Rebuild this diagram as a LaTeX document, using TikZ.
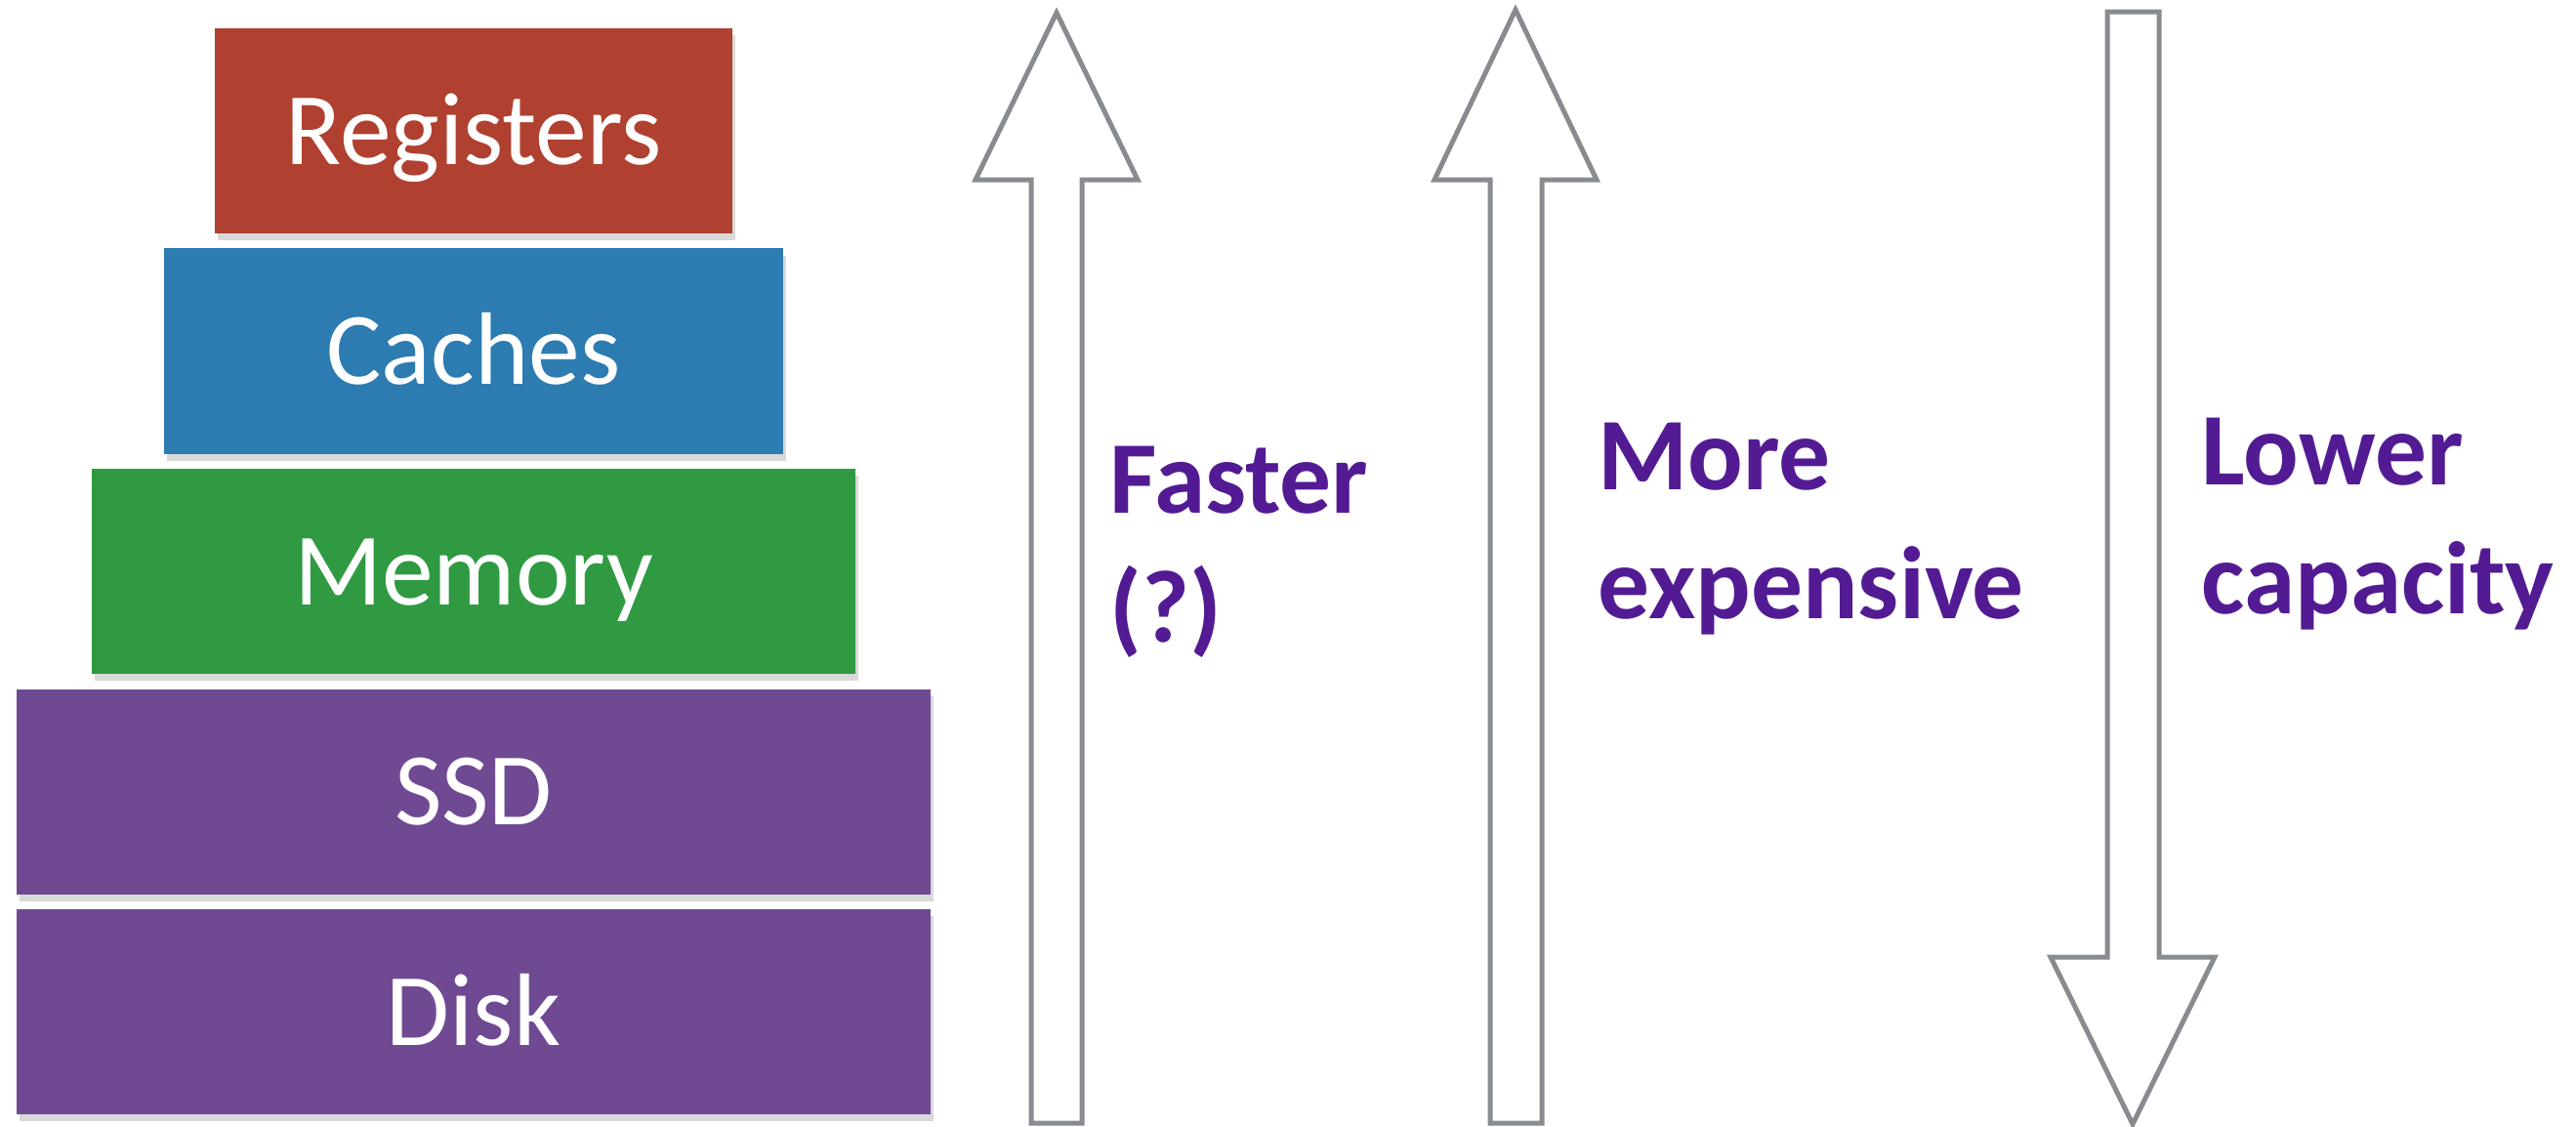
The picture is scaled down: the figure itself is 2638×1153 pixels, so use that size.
\documentclass[tikz,border=0pt]{standalone}
\usepackage{fontspec}
\setmainfont{Carlito}
\usetikzlibrary{positioning,shadows}

\definecolor{regred}{HTML}{B0402F}
\definecolor{cacheblue}{HTML}{2C7BB1}
\definecolor{memgreen}{HTML}{2F9A42}
\definecolor{storpurple}{HTML}{6F4A92}
\definecolor{labelpurple}{HTML}{531B93}
\definecolor{arrowgray}{HTML}{888B8F}

\tikzset{
  level/.style={minimum height=2.1cm, inner sep=0pt, text=white,
    text height=0.68cm, text depth=0pt,
    font=\fontsize{30}{36}\selectfont,
    drop shadow={shadow xshift=0.03cm, shadow yshift=-0.07cm, opacity=0.3}},
  hollow/.style={draw=arrowgray, line width=0.05cm, fill=white, line join=miter},
  trend/.style={text=labelpurple, align=left, inner sep=0pt, anchor=north west,
    font=\bfseries\fontsize{30}{37.5}\selectfont},
}

\begin{document}
\begin{tikzpicture}[x=0.01cm,y=-0.01cm]
  \useasboundingbox (0,0) rectangle (2638,1153);

  % 記憶階層のピラミッド
  \node[level, fill=regred, minimum width=5.3cm] (reg) at (485,134) {Registers};
  \node[level, fill=cacheblue, minimum width=6.34cm, below=0.14cm of reg] (cache) {Caches};
  \node[level, fill=memgreen, minimum width=7.82cm, below=0.14cm of cache] (mem) {Memory};
  \node[level, fill=storpurple, minimum width=9.36cm, below=0.14cm of mem] (ssd) {SSD};
  \node[level, fill=storpurple, minimum width=9.36cm, below=0.14cm of ssd] (disk) {Disk};

  % 上向きの白抜き矢印（速さ）
  \draw[hollow] (1082,13) -- (1165,184) -- (1108,184) -- (1108,1150)
    -- (1056,1150) -- (1056,184) -- (999,184) -- cycle;
  % 上向きの白抜き矢印（値段）
  \draw[hollow] (1552,10) -- (1635,184) -- (1579,184) -- (1579,1150)
    -- (1526,1150) -- (1526,184) -- (1469,184) -- cycle;
  % 下向きの白抜き矢印（容量）
  \draw[hollow] (2158,12) -- (2211,12) -- (2211,980) -- (2268,980)
    -- (2184,1151) -- (2100,980) -- (2158,980) -- cycle;

  % 矢印の説明
  \node[trend] (fast) at (1136,456) {Faster\\(?)};
  \node[trend] (cost) at (1636,432) {More\\expensive};
  \node[trend] (cap) at (2254,427) {Lower\\capacity};
\end{tikzpicture}
\end{document}
